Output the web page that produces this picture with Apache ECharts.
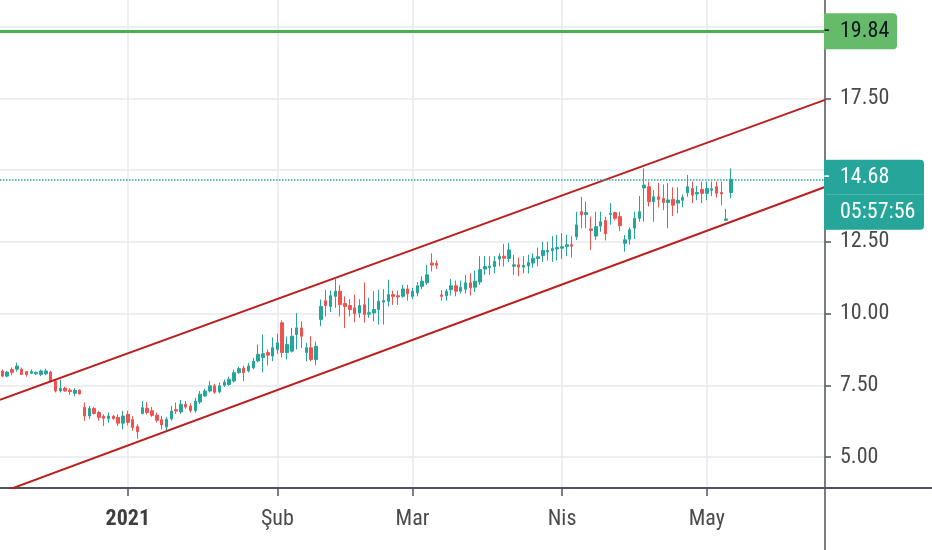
<!DOCTYPE html>
<html>
<head>
<meta charset="utf-8">
<script src="https://cdn.jsdelivr.net/npm/echarts@6/dist/echarts.min.js"></script>
<style>
html,body{margin:0;padding:0;background:#ffffff;}
#chart{width:932px;height:550px;}
</style>
</head>
<body>
<div id="chart"></div>
<script>
// ---------------- data ----------------
const startDate = '2020-12-06';
const dayCount = 171;
const monthNames = { '01': '2021', '02': 'Şub', '03': 'Mar', '04': 'Nis', '05': 'May' };

const opens = [8.00,7.82,8.05,8.06,8.06,7.98,7.92,7.90,7.88,7.90, 7.96,7.65,7.30,7.40,7.33,7.22,7.33,6.73,6.43,6.69, 6.55,6.42,6.33,6.42,6.38,6.18,6.49,6.30,6.06,6.52, 6.70,6.61,6.46,6.30,6.05,6.33,6.65,6.57,6.84,6.78, 6.62,6.92,7.13,7.30,7.48,7.27,7.50,7.53,7.65,7.94, 8.10,8.00,8.11,8.35,8.47,8.64,8.52,8.75,9.68,8.64, 8.69,9.27,9.50,8.64,8.81,8.40,9.79,10.45,10.25,10.60, 10.78,10.35,10.28,10.20,10.02,10.31,9.98,10.02,10.14,10.40, 10.43,10.66,10.62,10.60,10.86,10.60,10.72,10.95,11.07,11.76, 11.75,10.65,10.62,10.83,10.97,10.78,10.85,11.07,10.92,11.10, 11.55,11.60,11.64,11.90,12.00,11.92,11.65,11.70,11.62,11.66, 11.76,11.92,12.02,12.15,12.20,12.25,12.28,12.33,12.40,12.68, 13.55,13.45,12.95,12.70,13.05,13.24,13.45,13.52,13.38,12.45, 12.59,12.98,13.32,14.38,14.42,13.90,14.07,14.02,13.87,13.98, 13.85,13.95,14.21,14.36,14.17,14.33,14.19,14.30,14.42,14.22, 13.25,14.22];
const closes = [7.82,7.96,7.95,8.17,7.88,7.88,7.98,7.95,8.00,8.00, 7.65,7.30,7.40,7.30,7.28,7.32,7.20,6.43,6.69,6.52, 6.38,6.35,6.43,6.34,6.18,6.43,6.21,6.03,5.88,6.72, 6.55,6.45,6.28,6.12,6.32,6.60,6.60,6.84,6.74,6.62, 6.95,7.19,7.30,7.48,7.26,7.48,7.61,7.71,7.94,8.08, 7.94,8.17,8.34,8.58,8.60,8.55,8.81,8.98,8.64,8.92, 9.21,9.50,9.21,8.81,8.40,8.86,10.25,10.28,10.62,10.78, 10.31,10.25,10.14,10.00,10.28,9.97,10.03,10.14,10.43,10.45, 10.66,10.60,10.58,10.86,10.69,10.78,10.97,11.13,11.35,11.69, 11.68,10.60,10.78,10.97,10.78,10.92,11.07,10.90,11.13,11.53, 11.64,11.65,11.82,12.00,11.93,12.22,11.70,11.62,11.68,11.78, 11.93,11.98,12.20,12.20,12.27,12.30,12.33,12.40,12.35,13.09, 13.44,13.52,12.90,13.03,13.20,12.78,13.50,13.32,13.06,12.57, 12.92,13.32,13.55,14.48,13.90,14.07,13.98,13.87,13.96,13.78, 13.95,14.05,14.42,14.13,14.22,14.19,14.36,14.35,14.19,14.17, 13.30,14.68];
const lows = [7.78,7.78,7.85,7.98,7.86,7.80,7.90,7.86,7.82,7.85, 7.60,7.25,7.25,7.28,7.16,7.12,7.18,6.26,6.32,6.48, 6.26,6.08,6.20,6.30,6.08,5.96,6.10,5.92,5.64,6.48, 6.48,6.40,6.20,5.96,5.93,6.27,6.50,6.50,6.68,6.55, 6.55,6.85,7.10,7.25,7.20,7.22,7.44,7.48,7.60,7.90, 7.65,7.95,8.05,8.30,7.95,8.20,8.34,8.60,8.47,8.40, 8.64,8.75,8.80,8.34,8.34,8.20,9.56,9.90,10.05,10.20, 9.90,9.50,9.90,9.70,9.85,9.68,9.85,9.73,9.62,9.62, 10.25,10.30,10.30,10.55,10.45,10.50,10.60,10.85,11.00,11.47, 11.55,10.45,10.45,10.63,10.60,10.70,10.70,10.63,10.75,11.00, 11.35,11.35,11.40,11.65,11.64,11.80,11.35,11.30,11.40,11.40, 11.60,11.65,11.80,11.85,11.80,11.85,11.90,12.00,11.95,12.57, 12.97,12.98,12.22,12.57,12.85,12.55,13.10,13.25,12.87,12.16, 12.40,12.60,13.20,13.20,13.73,13.20,13.70,13.60,12.97,13.40, 13.50,13.70,14.07,13.85,13.95,13.85,13.95,14.10,14.05,13.78, 13.22,14.02];
const highs = [8.05,8.00,8.12,8.29,8.12,8.00,8.05,7.98,8.05,8.08, 8.00,7.70,7.70,7.45,7.40,7.40,7.36,6.90,6.78,6.75, 6.61,6.49,6.55,6.47,6.49,6.61,6.61,6.43,6.14,6.95, 6.92,6.75,6.55,6.43,6.40,6.78,6.90,6.99,6.95,6.87, 7.07,7.30,7.38,7.65,7.55,7.60,7.70,7.80,8.05,8.15, 8.18,8.28,8.45,8.92,9.27,8.75,9.17,9.30,9.76,9.20, 9.50,10.02,9.73,8.98,9.21,9.02,10.49,10.83,10.80,11.20, 11.00,10.60,10.50,10.66,10.50,11.09,10.55,10.78,10.83,10.85, 11.18,10.80,10.80,11.00,11.00,10.90,11.10,11.30,11.70,12.10, 11.85,10.82,10.85,11.20,11.15,11.15,11.35,11.40,11.50,12.00, 12.00,12.00,12.00,12.10,12.43,12.46,12.05,11.95,12.00,12.05, 12.10,12.30,12.50,12.50,12.70,12.75,12.80,12.75,12.70,13.55, 14.07,13.90,13.38,13.55,13.55,13.38,13.85,13.55,13.55,12.74, 13.00,13.55,14.10,15.06,14.60,14.30,14.55,14.50,14.55,14.40, 14.40,14.15,14.83,14.60,14.45,14.60,14.60,14.60,14.60,14.60, 13.65,15.06];

const yGridValues = [5, 7.5, 10, 12.5, 15, 17.5, 20];
const yLabelValues = [5, 7.5, 10, 12.5, 17.5];
const resistanceLevel = 19.84;
const countdownText = '05:57:56';
// trend channel drawn by the author: [day index, price]
const upperChannel = [[-0.5, 6.99], [170.5, 17.45]];
const lowerChannel = [[-0.5, 3.75], [170.5, 14.41]];

// ---------------- build ----------------
const categories = [];
const t0 = Date.parse(startDate + 'T00:00:00Z');
for (let i = 0; i < dayCount; i++) {
  categories.push(new Date(t0 + i * 86400000).toISOString().slice(0, 10));
}
const monthStarts = [];
categories.forEach((c, i) => { if (c.slice(8) === '01') monthStarts.push(i); });
const candles = opens.map((o, i) => [o, closes[i], lows[i], highs[i]]);
const lastPrice = closes[closes.length - 1];

const FONT = "'Liberation Sans Narrow', 'Roboto Condensed', 'Roboto', sans-serif";
const FS = 22;
const TXT = '#4a4a4a';
const AXIS = '#50535e';
const GRID = '#e6e9ef';
const UP = '#26a69a';
const DOWN = '#ef5350';
const GREEN = '#4caf50';
const GREEN_BOX = '#66bb6a';
const CHANNEL = '#bb1f1f';

const chart = echarts.init(document.getElementById('chart'), null, { renderer: 'canvas' });
chart.setOption({
  backgroundColor: '#ffffff',
  animation: false,
  grid: { left: 0, right: 107, top: 0, bottom: 62, containLabel: false },
  xAxis: [
    {
      type: 'category', data: categories, boundaryGap: true, show: false
    },
    {
      type: 'value', min: -0.5, max: 170.5, position: 'bottom',
      axisLine: { show: true, onZero: false, lineStyle: { color: AXIS, width: 2 } },
      axisTick: { show: true, length: 8, customValues: monthStarts, lineStyle: { color: AXIS, width: 1.5 } },
      axisLabel: {
        show: true, customValues: monthStarts, margin: 20,
        color: TXT, fontSize: FS, fontFamily: FONT,
        formatter: function (v) {
          const c = categories[Math.round(v)];
          if (!c) return '';
          const m = c.slice(5, 7);
          if (m === '01') return '{b|' + monthNames[m] + '}';
          return monthNames[m] || '';
        },
        rich: { b: { fontWeight: 'bold', fontSize: FS, fontFamily: FONT, color: '#3e3e3e' } }
      },
      splitLine: { show: true, lineStyle: { color: GRID, width: 1.5 } }
    }
  ],
  yAxis: {
    type: 'value', position: 'right', min: 3.92, max: 20.93,
    axisLine: { show: true, onZero: false, lineStyle: { color: AXIS, width: 1.5 } },
    axisTick: { show: true, inside: false, length: 6, customValues: yGridValues, lineStyle: { color: AXIS, width: 1.5 } },
    axisLabel: {
      show: true, customValues: yLabelValues, margin: 15,
      color: TXT, fontSize: FS, fontFamily: FONT,
      formatter: v => v.toFixed(2)
    },
    splitLine: { show: true, lineStyle: { color: GRID, width: 1.5 } }
  },
  series: [
    {
      type: 'candlestick',
      xAxisIndex: 0, yAxisIndex: 0,
      data: candles,
      barWidth: 3,
      itemStyle: { color: UP, color0: DOWN, borderColor: UP, borderColor0: DOWN, borderWidth: 1 },
      z: 2,
      markLine: {
        silent: true,
        symbol: ['none', 'none'],
        animation: false,
        data: [
          {
            yAxis: resistanceLevel,
            lineStyle: { color: GREEN, width: 3, type: 'solid' },
            label: {
              show: true, position: 'end', distance: -1,
              formatter: '{d|-}{g|' + resistanceLevel.toFixed(2) + '}',
              rich: {
                d: { width: 16, height: 36, lineHeight: 36, backgroundColor: GREEN_BOX, color: '#131722', fontSize: FS, fontFamily: FONT, align: 'left' },
                g: { width: 57, height: 36, lineHeight: 36, backgroundColor: GREEN_BOX, color: '#131722', fontSize: FS, fontFamily: FONT, align: 'left', borderRadius: [0, 4, 4, 0] }
              }
            }
          },
          {
            yAxis: lastPrice,
            lineStyle: { color: UP, width: 1.5, type: 'dotted' },
            label: {
              show: true, position: 'end', distance: -1,
              formatter: '{s| }\n{d|-}{p|' + lastPrice.toFixed(2) + '}\n{e| }{q|' + countdownText + '}',
              rich: {
                s: { height: 31, lineHeight: 31, fontSize: 4 },
                d: { width: 16, height: 35, lineHeight: 35, backgroundColor: UP, color: '#ffffff', fontSize: FS, fontFamily: FONT, align: 'left' },
                p: { width: 84, height: 35, lineHeight: 35, backgroundColor: UP, color: '#ffffff', fontSize: FS, fontFamily: FONT, align: 'left', borderRadius: [0, 4, 0, 0] },
                e: { width: 16, height: 35, lineHeight: 35, backgroundColor: UP, fontSize: FS, fontFamily: FONT },
                q: { width: 84, height: 35, lineHeight: 35, backgroundColor: UP, color: '#ffffff', fontSize: FS, fontFamily: FONT, align: 'left', borderRadius: [0, 0, 4, 0] }
              }
            }
          }
        ]
      }
    },
    {
      type: 'line', xAxisIndex: 1, yAxisIndex: 0,
      data: upperChannel, symbol: 'none', silent: true, z: 4,
      lineStyle: { color: CHANNEL, width: 2 }
    },
    {
      type: 'line', xAxisIndex: 1, yAxisIndex: 0,
      data: lowerChannel, symbol: 'none', silent: true, z: 4,
      lineStyle: { color: CHANNEL, width: 2 }
    }
  ],
  graphic: [
    { type: 'line', silent: true, z: 10, shape: { x1: 825, y1: 488, x2: 932, y2: 488 }, style: { stroke: AXIS, lineWidth: 2 } },
    { type: 'line', silent: true, z: 10, shape: { x1: 825, y1: 488, x2: 825, y2: 550 }, style: { stroke: AXIS, lineWidth: 1.5 } }
  ]
});
</script>
</body>
</html>
